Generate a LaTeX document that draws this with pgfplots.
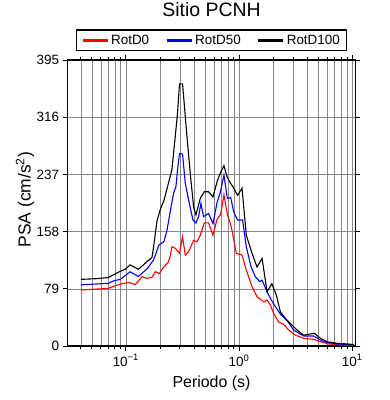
\documentclass[border=0pt]{standalone}
\usepackage{pgfplots}
\pgfplotsset{compat=1.18}
\usepackage{fontspec}
\setmainfont{Liberation Sans}
\begin{document}
\begin{tikzpicture}
\path[use as bounding box] (-67.5bp,-54bp) rectangle (322.5bp,346bp);
\begin{axis}[
 at={(0,0)}, anchor=south west,
 scale only axis, width=288bp, height=286bp,
 xmode=log, xmin=0.0305, xmax=10.7, ymin=0, ymax=395,
 ytick={0,79,158,237,316,395},
 yticklabels={0,79,158,237,316,395},
 xtick={0.1,1,10},
 xticklabels={10\textsuperscript{−1},10\textsuperscript{0},10\textsuperscript{1}},
 minor xtick={0.04,0.05,0.06,0.07,0.08,0.09,0.2,0.3,0.4,0.5,0.6,0.7,0.8,0.9,2,3,4,5,6,7,8,9},
 xmajorgrids, xminorgrids, ymajorgrids,
 grid style={black!47, line width=0.5bp},
 minor grid style={black!47, line width=0.5bp},
 tick align=outside, major tick length=5bp, minor tick length=3bp,
 tick style={black, line width=0.8bp},
 axis line style={line width=1.3bp},
 tick label style={font=\fontsize{13.5}{14}\selectfont},
 /pgf/number format/assume math mode=true,
 title={Sitio PCNH},
 title style={font=\fontsize{19.5}{20}\selectfont, at={(0.5,1)}, anchor=base, yshift=38bp},
 xlabel={Periodo (s)},
 xlabel style={font=\fontsize{16}{16}\selectfont, at={(axis description cs:0.5,0)}, anchor=base, yshift=-41bp},
 ylabel={PSA (cm/s\textsuperscript{2})},
 ylabel style={font=\fontsize{17.5}{18}\selectfont, at={(axis description cs:-0.128,0.5115)}, anchor=base},
 legend style={at={(0.5,1)}, anchor=south, yshift=8.5bp, legend columns=3, draw=black, line width=1.2bp,
   font=\fontsize{13.5}{14}\selectfont, inner xsep=5bp, inner ysep=3bp,
   /tikz/every even column/.append style={column sep=14bp}},
 legend image code/.code={\draw[line width=3bp] (0bp,0bp) -- (25bp,0bp);},
]
\addplot[red, line width=1.1bp] coordinates {
(0.040,77.3) (0.070,79.6) (0.080,83) (0.095,86.6) (0.109,87.5) (0.121,84.7) (0.139,95.7) (0.153,93.5) (0.170,94.8) (0.182,102.6) (0.198,100) (0.215,109) (0.238,116) (0.247,125) (0.255,137) (0.273,135) (0.298,128) (0.317,151) (0.335,125.7) (0.358,130) (0.397,146) (0.425,144) (0.455,153) (0.493,170) (0.538,170) (0.589,153) (0.639,175) (0.688,182) (0.736,208.6) (0.788,182) (0.838,169.5) (0.867,160) (0.946,128) (1.063,125.7) (1.16,105) (1.303,82) (1.443,68) (1.651,61) (1.77,63.5) (1.892,56.6) (2.024,45) (2.24,33) (2.48,30) (2.75,22) (3.15,15) (3.73,10.6) (4.57,9.2) (5.24,6) (6.21,2.8) (7.87,1.4) (10.33,1)
};
\addlegendentry{RotD0}
\addplot[blue, line width=1.1bp] coordinates {
(0.040,84.5) (0.070,86.5) (0.078,90) (0.089,92) (0.109,102.5) (0.129,96) (0.155,107) (0.176,119) (0.196,139.5) (0.217,144) (0.231,160) (0.247,186) (0.264,211) (0.277,220) (0.286,243) (0.298,266) (0.317,265) (0.335,225) (0.358,202) (0.392,174) (0.416,170) (0.439,178.6) (0.461,197) (0.486,178.6) (0.538,183) (0.589,169) (0.639,198) (0.683,212) (0.736,236) (0.788,204) (0.845,205) (0.896,185.5) (0.972,174) (1.076,174) (1.16,137) (1.277,109.5) (1.394,95.7) (1.521,89) (1.598,91) (1.77,75) (1.892,66) (2.024,58) (2.32,44) (2.66,35) (3.04,22) (3.73,13.8) (4.57,13.8) (5.24,8.3) (6.0,4.6) (7.37,2.8) (10.33,1.4)
};
\addlegendentry{RotD50}
\addplot[black, line width=1.1bp] coordinates {
(0.040,92) (0.055,93) (0.070,94.5) (0.086,102) (0.099,106) (0.109,112) (0.129,106) (0.143,112) (0.155,117) (0.170,122) (0.176,137) (0.188,172) (0.201,188) (0.218,202) (0.238,225) (0.255,243) (0.273,289) (0.286,321) (0.298,362) (0.317,362) (0.347,289) (0.371,238) (0.397,192) (0.416,181) (0.455,204) (0.493,213) (0.538,213) (0.589,206) (0.643,228) (0.693,241) (0.736,249) (0.783,234) (0.838,225) (0.885,220) (0.972,208) (1.063,218) (1.16,153) (1.303,128) (1.443,109) (1.598,121) (1.77,75) (1.95,86) (2.14,70) (2.32,47) (2.57,38) (2.84,31) (3.26,22) (3.73,15) (4.22,16.5) (4.64,17.5) (5.24,10.6) (6.0,6) (7.37,3.7) (9.03,2.8) (10.33,2)
};
\addlegendentry{RotD100}
\end{axis}
\end{tikzpicture}
\end{document}
